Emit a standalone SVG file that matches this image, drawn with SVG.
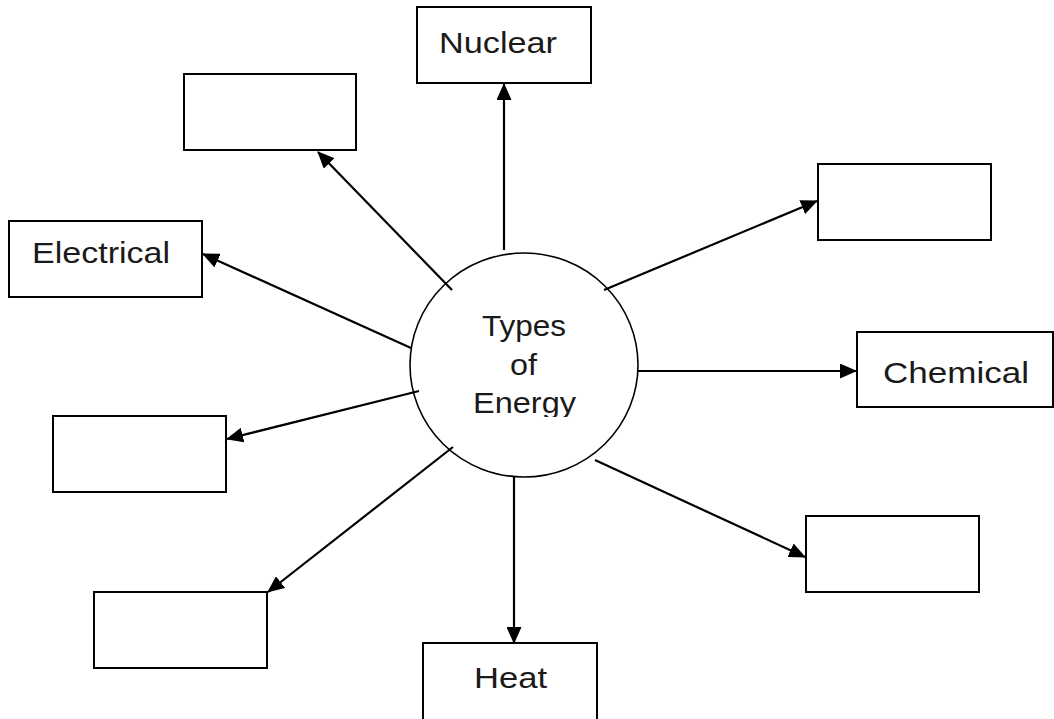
<svg xmlns="http://www.w3.org/2000/svg" width="1054" height="719" viewBox="0 0 1054 719">
<style>
.box{fill:#fff;stroke:#000;stroke-width:2}
.lbl{font-family:"Liberation Sans",Arial,sans-serif;font-size:30px;fill:#1a1a1a}
.con{stroke:#000;stroke-width:2.2;fill:none;marker-end:url(#ah)}
</style>
<defs>
<marker id="ah" markerUnits="userSpaceOnUse" markerWidth="17" markerHeight="15" refX="16" refY="7.5" orient="auto" viewBox="0 0 17 15">
<path d="M0,0 L17,7.5 L0,15 z" fill="#000"/>
</marker>
<clipPath id="clipE"><rect x="400" y="250" width="260" height="167"/></clipPath>
</defs>
<rect width="1054" height="719" fill="#fff"/>
<g id="connectors">
<line class="con" x1="504" y1="250" x2="504" y2="84"/>
<line class="con" x1="452" y1="290" x2="318" y2="152"/>
<line class="con" x1="411" y1="348" x2="203" y2="254"/>
<line class="con" x1="419" y1="391" x2="227" y2="439"/>
<line class="con" x1="453" y1="447" x2="268" y2="592"/>
<line class="con" x1="514" y1="476" x2="514" y2="643"/>
<line class="con" x1="595" y1="460" x2="805" y2="557"/>
<line class="con" x1="638" y1="371" x2="856" y2="371"/>
<line class="con" x1="604" y1="290" x2="817" y2="201"/>
</g>
<g id="center">
<ellipse cx="524" cy="365" rx="114" ry="112" fill="none" stroke="#000" stroke-width="1.6"/>
<text class="lbl" x="482" y="336" textLength="84" lengthAdjust="spacingAndGlyphs">Types</text>
<text class="lbl" x="510" y="375" textLength="27" lengthAdjust="spacingAndGlyphs">of</text>
<text class="lbl" x="473" y="413" textLength="103" lengthAdjust="spacingAndGlyphs" clip-path="url(#clipE)">Energy</text>
</g>
<g id="nuclear">
<rect class="box" x="417" y="7" width="174" height="76"/>
<text class="lbl" x="439" y="53" textLength="118" lengthAdjust="spacingAndGlyphs">Nuclear</text>
</g>
<g id="topleft">
<rect class="box" x="184" y="74" width="172" height="76"/>
</g>
<g id="electrical">
<rect class="box" x="9" y="221" width="193" height="76"/>
<text class="lbl" x="32" y="263" textLength="138" lengthAdjust="spacingAndGlyphs">Electrical</text>
</g>
<g id="leftmid">
<rect class="box" x="53" y="416" width="173" height="76"/>
</g>
<g id="bottomleft">
<rect class="box" x="94" y="592" width="173" height="76"/>
</g>
<g id="heat">
<rect class="box" x="423" y="643" width="174" height="90"/>
<text class="lbl" x="474" y="688" textLength="73" lengthAdjust="spacingAndGlyphs">Heat</text>
</g>
<g id="bottomright">
<rect class="box" x="806" y="516" width="173" height="76"/>
</g>
<g id="chemical">
<rect class="box" x="857" y="332" width="196" height="75"/>
<text class="lbl" x="883" y="383" textLength="146" lengthAdjust="spacingAndGlyphs">Chemical</text>
</g>
<g id="topright">
<rect class="box" x="818" y="164" width="173" height="76"/>
</g>
</svg>
